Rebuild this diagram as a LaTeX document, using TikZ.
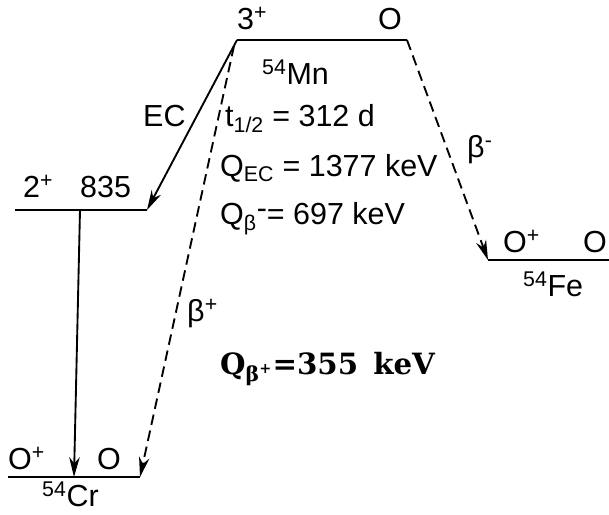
\documentclass[tikz,border=0pt]{standalone}
\usepackage{fontspec}
\setmainfont{Liberation Sans}
\newfontfamily\slabfont{DejaVu Serif}
\usetikzlibrary{positioning,arrows.meta}

\begin{document}
\begin{tikzpicture}[x=0.03cm,y=-0.03cm,
    level/.style={line width=2.2pt},
    txt/.style={font=\fontsize{26}{30}\selectfont,inner sep=0pt,anchor=base west},
    decay/.style={-{Stealth[length=17pt,width=9pt]},line width=1.6pt},
    betadecay/.style={decay,dash pattern=on 9pt off 5pt}]

\useasboundingbox (0,0) rectangle (609,515);

% levels
\coordinate (mnL) at (237,40);
\coordinate (mnR) at (407,40);
\coordinate (exL) at (15,210);
\coordinate (exR) at (147,210);
\coordinate (crL) at (8,477);
\coordinate (crR) at (140,477);
\coordinate (feL) at (488,260);
\coordinate (feR) at (609,260);
\coordinate (gtop) at (80,210);
\coordinate (gbot) at (74,477);
\coordinate (bpstart) at (234,46);

\draw[level] (mnL) -- (mnR);
\draw[level] (exL) -- (exR);
\draw[level] (crL) -- (crR);
\draw[level] (feL) -- (feR);

% spins and energies
\node[txt] (mnspin) at (237,30) {3\textsuperscript{+}};
\node[txt] (mnen) at (378,30) {O};
\node[txt] (mnname) at (262,85) {\textsuperscript{54}Mn};
\node[txt] (exspin) at (23,198) {2\textsuperscript{+}};
\node[txt] (exen) at (80,198) {835};
\node[txt] (crspin) at (8,470) {O\textsuperscript{+}};
\node[txt] (cren) at (97,470) {O};
\node[txt] (crname) at (42,507) {\textsuperscript{54}Cr};
\node[txt] (fespin) at (503,253) {O\textsuperscript{+}};
\node[txt] (feen) at (583,253) {O};
\node[txt] (fename) at (523,297) {\textsuperscript{54}Fe};

% data of the parent
\node[txt] (thalf) at (225,127) {t\textsubscript{1/2} = 312 d};
\node[txt] (qec) at (220,177) {Q\textsubscript{EC} = 1377 keV};
\node[txt] (qbm) at (220,225) {Q\textsubscript{β}\raisebox{0.4ex}{-}= 697 keV};
\node[font=\slabfont\bfseries\fontsize{25}{28}\selectfont,inner sep=0pt,anchor=base west] (qbp) at (220,375) {Q\textsubscript{β\textsuperscript{+}}=355\, keV};

% transitions
\draw[decay] (mnL) -- (exR);
\draw[decay] (gtop) -- (gbot);
\draw[betadecay] (bpstart) -- (crR);
\draw[betadecay] (mnR) -- (feL);

\node[txt] (eclabel) at (143,127) {EC};
\node[txt] (bplabel) at (187,322) {β\textsuperscript{+}};
\node[txt] (bmlabel) at (467,158) {β\textsuperscript{-}};
\end{tikzpicture}
\end{document}
